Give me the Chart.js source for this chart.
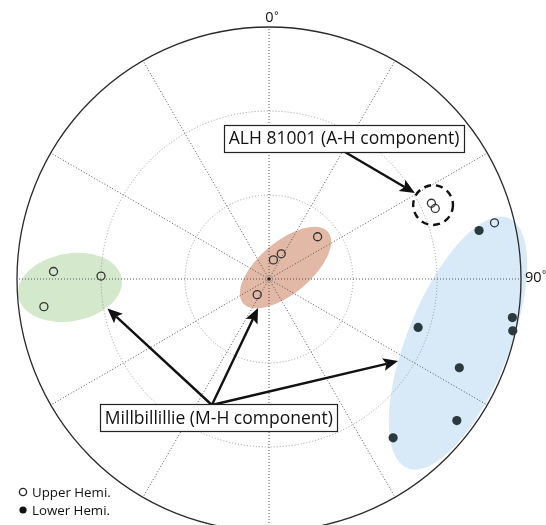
<!DOCTYPE html>
<html>
<head>
<meta charset="utf-8">
<script src="https://cdn.jsdelivr.net/npm/chart.js@4/dist/chart.umd.min.js"></script>
<style>
  html, body { margin: 0; padding: 0; background: #fff; overflow: hidden; }
  canvas { display: block; }
</style>
</head>
<body>
<canvas id="net" width="546" height="545"></canvas>
<script>
// Site-mean directions: declination / inclination in degrees.
// Negative inclination = upper hemisphere (open symbol), positive = lower (filled).
const westDec = [272, 271, 263];
const westInc = [-13, -30, -9];
const centralDec = [49, 26, 13, 217];
const centralInc = [-67, -80, -83, -83];
const alhDec = [65, 67];
const alhInc = [-26, -25.5];
const eastDec = [76, 77, 108, 99, 102, 115, 127, 142];
const eastInc = [-7, 13, 34, 2, 1, 15, 6, 18];

// Net layout: spokes every 30° of declination, small circles of inclination
const spokeDecs = [0, 30, 60, 90, 120, 150, 180, 210, 240, 270, 300, 330];
const gridIncs = [60, 30];
const azimuthLabels = ['0', '90'];
const legendLabels = ['Upper Hemi.', 'Lower Hemi.'];

// Shaded clusters (net units: centre x, centre y, semi-axes, tilt in degrees)
const clusterX = [-71.1, 5.9, 67.5];
const clusterY = [-3.0, 4.1, -22.9];
const clusterA = [18.75, 19.8, 48.2];
const clusterB = [12.1, 9.3, 18.2];
const clusterTilt = [10, 40, 68];
const clusterFill = ['#d4e8cb', '#e2b8a6', '#d8eaf8'];

// Project a direction onto the net (polar, linear in inclination)
function project(dec, inc) {
  const r = 90 - Math.abs(inc);
  const t = dec * Math.PI / 180;
  return { x: r * Math.sin(t), y: r * Math.cos(t) };
}

const allDec = westDec.concat(centralDec, alhDec, eastDec);
const allInc = westInc.concat(centralInc, alhInc, eastInc);
const upperPts = [], lowerPts = [];
allDec.forEach((d, i) => {
  const p = project(d, allInc[i]);
  (allInc[i] < 0 ? upperPts : lowerPts).push(p);
});

const FONT = '"Open Sans", "DejaVu Sans", sans-serif';

function arrow(ctx, x1, y1, x2, y2) {
  const ang = Math.atan2(y2 - y1, x2 - x1);
  const hl = 15, hw = 6.5;
  const bx = x2 - Math.cos(ang) * hl * 0.8, by = y2 - Math.sin(ang) * hl * 0.8;
  ctx.beginPath();
  ctx.moveTo(x1, y1);
  ctx.lineTo(bx, by);
  ctx.lineWidth = 2.4;
  ctx.strokeStyle = '#111';
  ctx.stroke();
  ctx.beginPath();
  ctx.moveTo(x2, y2);
  ctx.lineTo(x2 - Math.cos(ang) * hl + Math.sin(ang) * hw, y2 - Math.sin(ang) * hl - Math.cos(ang) * hw);
  ctx.lineTo(bx, by);
  ctx.lineTo(x2 - Math.cos(ang) * hl - Math.sin(ang) * hw, y2 - Math.sin(ang) * hl + Math.cos(ang) * hw);
  ctx.closePath();
  ctx.fillStyle = '#111';
  ctx.fill();
}

function boxLabel(ctx, text, cx, cy) {
  ctx.font = '17.5px ' + FONT;
  const w = ctx.measureText(text).width + 9;
  const h = 27;
  ctx.fillStyle = '#fff';
  ctx.fillRect(cx - w / 2, cy - h / 2, w, h);
  ctx.lineWidth = 1.2;
  ctx.strokeStyle = '#222';
  ctx.strokeRect(Math.round(cx - w / 2) + 0.5, Math.round(cy - h / 2) + 0.5, Math.round(w), h);
  ctx.fillStyle = '#111';
  ctx.textAlign = 'center';
  ctx.textBaseline = 'middle';
  ctx.fillText(text, cx, cy + 1);
}

// Azimuth label: number followed by a small degree sign
function azLabel(ctx, text, left, cy) {
  ctx.font = '14.5px ' + FONT;
  ctx.textAlign = 'left';
  ctx.textBaseline = 'middle';
  ctx.fillStyle = '#111';
  ctx.fillText(text, left, cy);
  const w = ctx.measureText(text).width;
  ctx.font = '10px ' + FONT;
  ctx.fillText('°', left + w + 0.5, cy - 2);
}

const netPlugin = {
  id: 'net',
  beforeDatasetsDraw(chart) {
    const { ctx, scales: { x, y } } = chart;
    const cx = x.getPixelForValue(0), cy = y.getPixelForValue(0);
    const k = x.getPixelForValue(1) - cx;
    ctx.save();
    // shaded clusters
    clusterX.forEach((v, i) => {
      ctx.beginPath();
      ctx.ellipse(x.getPixelForValue(v), y.getPixelForValue(clusterY[i]),
        clusterA[i] * k, clusterB[i] * k, -clusterTilt[i] * Math.PI / 180, 0, Math.PI * 2);
      ctx.fillStyle = clusterFill[i];
      ctx.fill();
    });
    // inclination circles
    ctx.setLineDash([1, 2]);
    ctx.lineWidth = 1;
    ctx.strokeStyle = '#9a9a9a';
    gridIncs.forEach(inc => {
      ctx.beginPath();
      ctx.arc(cx, cy, (90 - inc) * k, 0, Math.PI * 2);
      ctx.stroke();
    });
    // declination spokes
    ctx.strokeStyle = '#555';
    spokeDecs.forEach(d => {
      const p = project(d, 0);
      ctx.beginPath();
      ctx.moveTo(cx, cy);
      ctx.lineTo(x.getPixelForValue(p.x), y.getPixelForValue(p.y));
      ctx.stroke();
    });
    ctx.setLineDash([]);
    // primitive circle
    ctx.beginPath();
    ctx.arc(cx, cy, 90 * k, 0, Math.PI * 2);
    ctx.lineWidth = 1.3;
    ctx.strokeStyle = '#2a2a2a';
    ctx.stroke();
    // centre mark
    ctx.beginPath();
    ctx.arc(cx, cy, 1.8, 0, Math.PI * 2);
    ctx.fillStyle = '#222';
    ctx.fill();
    ctx.restore();
  },
  afterDatasetsDraw(chart) {
    const { ctx, scales: { x, y } } = chart;
    const X = v => x.getPixelForValue(v), Y = v => y.getPixelForValue(v);
    const k = X(1) - X(0);
    ctx.save();
    // dashed ring round the ALH 81001 pair
    ctx.beginPath();
    ctx.arc(X(58.6), Y(26.4), 7.1 * k, 0, Math.PI * 2);
    ctx.setLineDash([7, 5]);
    ctx.lineWidth = 2.4;
    ctx.strokeStyle = '#111';
    ctx.stroke();
    ctx.setLineDash([]);
    // callouts
    arrow(ctx, X(26.5), Y(45.7), X(52.1), Y(30.7));
    arrow(ctx, X(-20.4), Y(-45.0), X(-57.7), Y(-10.5));
    arrow(ctx, X(-20.4), Y(-45.0), X(-3.9), Y(-10.4));
    arrow(ctx, X(-20.4), Y(-45.0), X(46.1), Y(-29.3));
    boxLabel(ctx, 'ALH 81001 (A-H component)', X(26.8), Y(50.2));
    boxLabel(ctx, 'Millbillillie (M-H component)', X(-17.9), Y(-49.6));
    // azimuth labels
    azLabel(ctx, azimuthLabels[0], X(-1.3), Y(93.3));
    azLabel(ctx, azimuthLabels[1], X(91.4), Y(0.5));
    // legend
    ctx.font = '13.3px ' + FONT;
    ctx.textAlign = 'left';
    ctx.textBaseline = 'middle';
    const rows = [492, 510];
    chart.data.datasets.forEach((ds, i) => {
      ctx.beginPath();
      ctx.arc(23, rows[i], 3.6, 0, Math.PI * 2);
      if (i === 0) { ctx.lineWidth = 1.3; ctx.strokeStyle = '#222'; ctx.stroke(); }
      else { ctx.fillStyle = '#111'; ctx.fill(); }
      ctx.fillStyle = '#111';
      ctx.fillText(ds.label, 32, rows[i] + 1);
    });
    ctx.restore();
  }
};

new Chart(document.getElementById('net'), {
  type: 'scatter',
  data: {
    datasets: [
      {
        label: legendLabels[0],
        data: upperPts,
        pointRadius: 4,
        pointBorderWidth: 1.3,
        pointBorderColor: '#333',
        pointBackgroundColor: 'rgba(0,0,0,0)'
      },
      {
        label: legendLabels[1],
        data: lowerPts,
        pointRadius: 4.6,
        pointBorderWidth: 0,
        pointBorderColor: '#2b3a3f',
        pointBackgroundColor: '#2b3a3f'
      }
    ]
  },
  options: {
    responsive: false,
    animation: false,
    devicePixelRatio: 1,
    layout: { padding: { left: 17, top: 27, right: 25, bottom: 14 } },
    clip: false,
    scales: {
      x: { type: 'linear', min: -90, max: 90, display: false },
      y: { type: 'linear', min: -90, max: 90, display: false }
    },
    plugins: { legend: { display: false }, tooltip: { enabled: false } }
  },
  plugins: [netPlugin]
});
</script>
</body>
</html>
